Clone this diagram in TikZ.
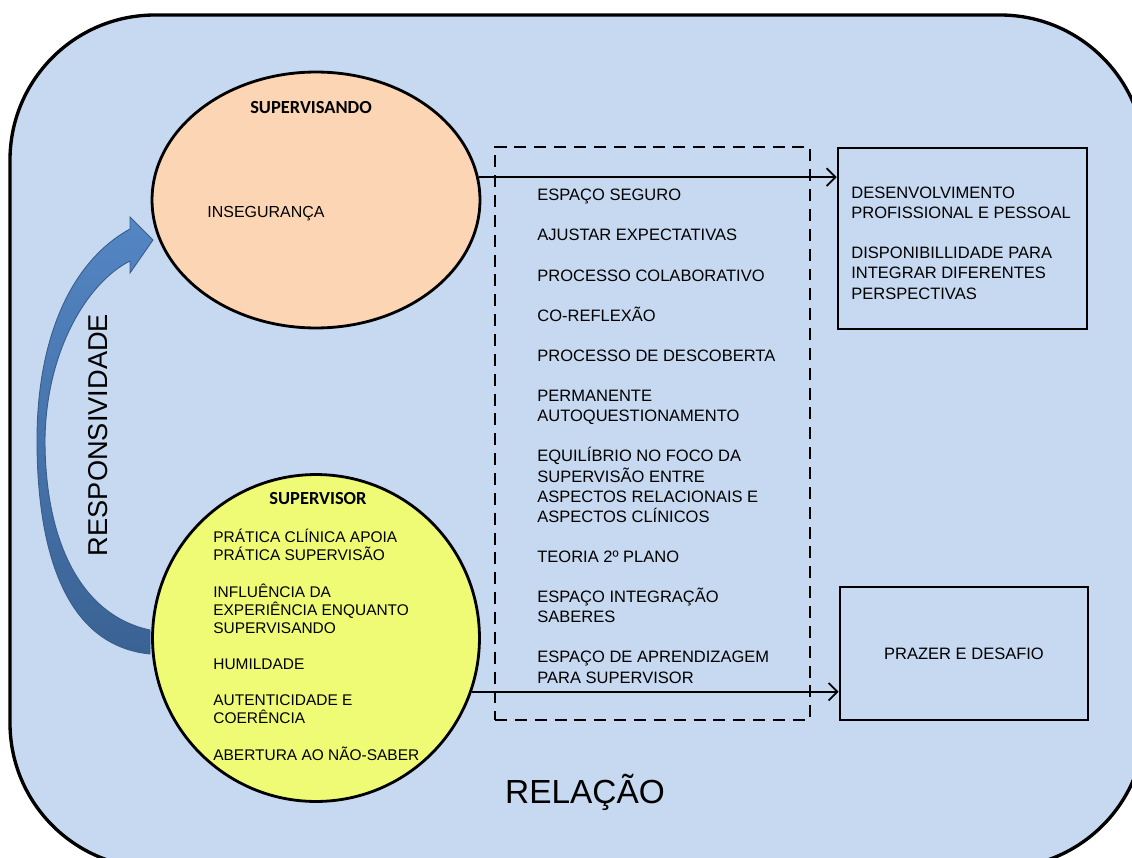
\documentclass[tikz,border=0pt]{standalone}
\usepackage{fontspec}
\setmainfont{Liberation Sans}
\newfontfamily\calfont{Carlito}
\usetikzlibrary{shapes.geometric,arrows.meta}
\definecolor{relbg}{RGB}{198,217,241}
\definecolor{peach}{RGB}{252,213,181}
\definecolor{lemon}{RGB}{239,250,117}
\definecolor{arrtop}{RGB}{84,134,196}
\definecolor{arrbot}{RGB}{58,98,148}
\definecolor{arredge}{RGB}{56,93,138}
\tikzset{
  txt/.style={font=\fontsize{9.4}{11.44}\selectfont, align=left, inner sep=0pt, anchor=base west},
  circtxt/.style={font=\fontsize{8.8}{10.3}\selectfont, align=left, inner sep=0pt, anchor=base west},
  boxtxt/.style={font=\fontsize{9.4}{11.44}\selectfont, align=left, inner sep=0pt},
  title/.style={font=\calfont\bfseries\fontsize{10.5}{12}\selectfont, inner sep=0pt},
  outbox/.style={draw, line width=1.6pt, rectangle, inner sep=0pt}
}
\begin{document}
\begin{tikzpicture}[x=0.02cm,y=-0.02cm,>={Straight Barb[length=5pt,width=10pt]}]
        \useasboundingbox (0,0) rectangle (1132,858);
        %% Relation background
        \draw[line width=1.9pt, fill=relbg, rounded corners=2.9cm] (10,15) rectangle (1145,868);
        \node[font=\fontsize{19}{22}\selectfont] (rel) at (585,792) {RELAÇÃO};
        %% Supervisee
        \node[ellipse, draw, line width=1.6pt, fill=peach, minimum width=6.56cm, minimum height=5.12cm] (sv) at (316,200) {};
        \node[title] (svtitle) at (311,108) {SUPERVISANDO};
        \node[font=\fontsize{9.1}{11}\selectfont, inner sep=0pt, anchor=west] (insec) at (207,214) {INSEGURANÇA};
        %% Supervisor (anchored at the baseline of the last line)
        \node[circle, draw, line width=1.6pt, fill=lemon, minimum size=6.54cm] (sor) at (316,638) {};
        \node[title] (sortitle) at (318,499) {SUPERVISOR};
        \node[circtxt] (sortxt) at (213,760) {PRÁTICA CLÍNICA APOIA\\
            PRÁTICA SUPERVISÃO\\[10.3pt]
            INFLUÊNCIA DA\\
            EXPERIÊNCIA ENQUANTO\\
            SUPERVISANDO\\[10.3pt]
            HUMILDADE\\[10.3pt]
            AUTENTICIDADE E\\
            COERÊNCIA\\[10.3pt]
            ABERTURA AO NÃO-SABER};
        %% Responsiveness arrow
        \path[draw=arredge, line width=0.5pt, top color=arrtop, bottom color=arrbot]
            (150,630) .. controls (80,615) and (45,540) .. (45,440)
            .. controls (46,350) and (88,282) .. (130,261) -- (130,273) -- (153,240) -- (130,217) -- (130,229)
            .. controls (70,262) and (37,340) .. (37,440)
            .. controls (37,540) and (60,645) .. (150,654) -- cycle;
        \node[rotate=90, font=\fontsize{15.5}{18}\selectfont] (resp) at (98,435) {RESPONSIVIDADE};
        %% Middle dashed box
        \node[draw, line width=1.6pt, dash pattern=on 6.8pt off 4.5pt, minimum width=6.3cm, minimum height=11.46cm, inner sep=0pt] (mid) at (652.5,433.5) {};
        \node[txt] (midtxt) at (537,683) {ESPAÇO SEGURO\\[11.44pt]
            AJUSTAR EXPECTATIVAS\\[11.44pt]
            PROCESSO COLABORATIVO\\[11.44pt]
            CO-REFLEXÃO\\[11.44pt]
            PROCESSO DE DESCOBERTA\\[11.44pt]
            PERMANENTE\\
            AUTOQUESTIONAMENTO\\[11.44pt]
            EQUILÍBRIO NO FOCO DA\\
            SUPERVISÃO ENTRE\\
            ASPECTOS RELACIONAIS E\\
            ASPECTOS CLÍNICOS\\[11.44pt]
            TEORIA 2º PLANO\\[11.44pt]
            ESPAÇO INTEGRAÇÃO\\
            SABERES\\[11.44pt]
            ESPAÇO DE APRENDIZAGEM\\
            PARA SUPERVISOR};
        %% Outcome boxes
        \node[outbox, minimum width=4.98cm, minimum height=3.62cm] (dev) at (962.5,238.5) {};
        \node[boxtxt, anchor=base west] (devtxt) at (851,299) {DESENVOLVIMENTO\\
            PROFISSIONAL E PESSOAL\\[11.44pt]
            DISPONIBILLIDADE PARA\\
            INTEGRAR DIFERENTES\\
            PERSPECTIVAS};
        \node[outbox, boxtxt, minimum width=4.96cm, minimum height=2.66cm] (pz) at (964,653.5) {PRAZER E DESAFIO};
        %% Connectors
        \draw[->, line width=1pt] (sv.8) -- (sv.8 -| dev.west);
        \draw[->, line width=1pt] (sor.-19) -- (sor.-19 -| pz.west);
    \end{tikzpicture}
\end{document}
